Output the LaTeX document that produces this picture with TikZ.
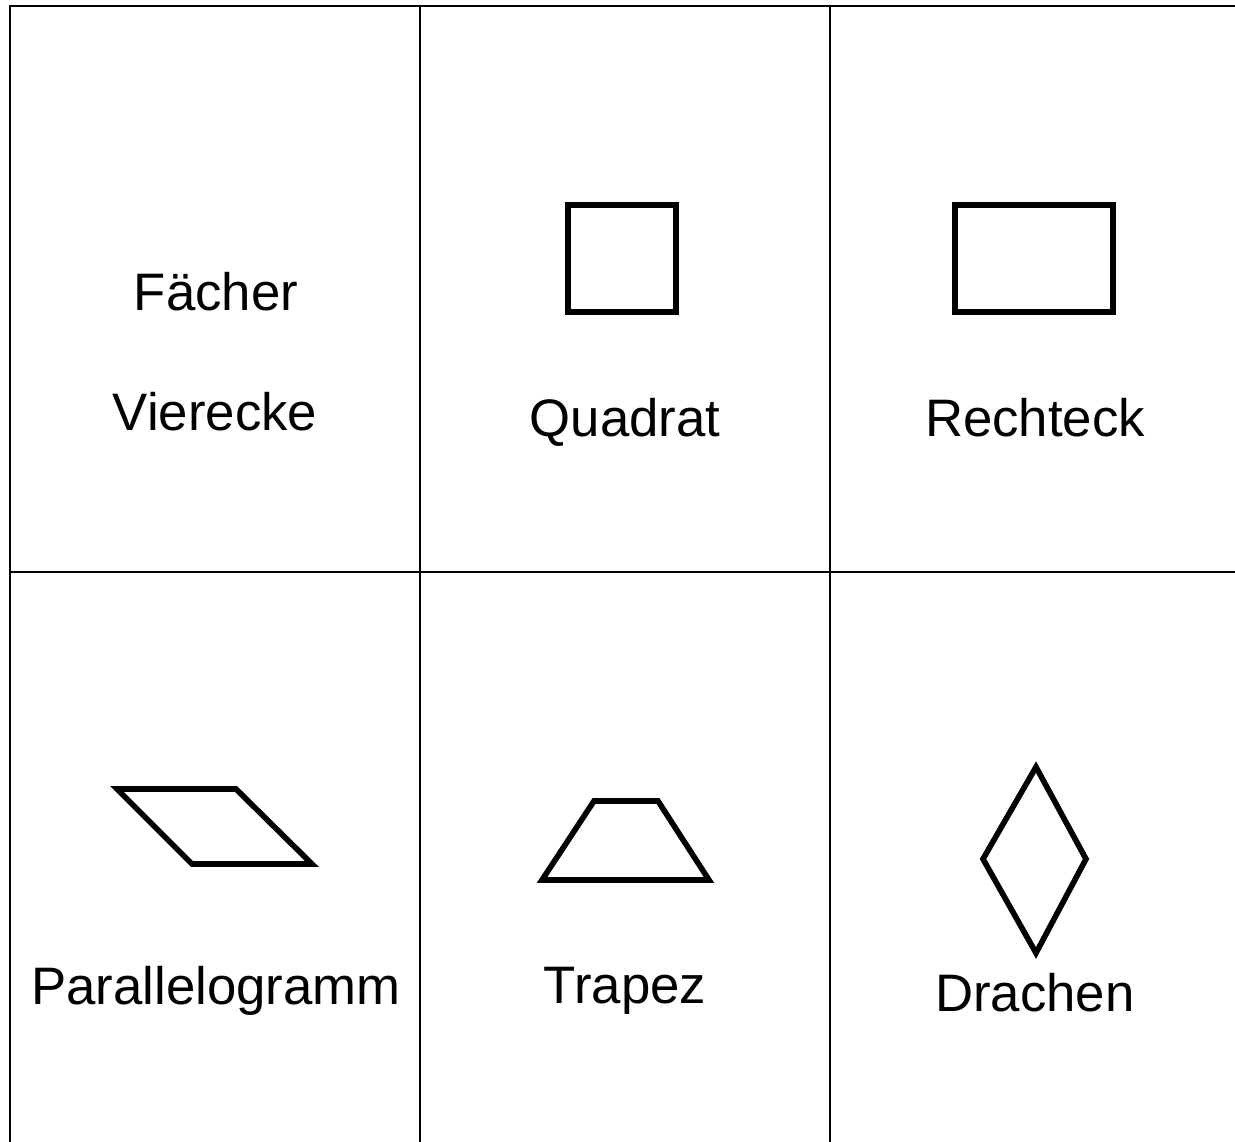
\documentclass[tikz,border=0pt]{standalone}
\usepackage{fontspec}
\setmainfont{Liberation Sans}

\begin{document}
\begin{tikzpicture}[x=0.01cm, y=-0.01cm,
    gitter/.style={line width=0.6pt, line cap=rect},
    figur/.style={line width=1.6pt, line join=miter},
    wort/.style={font=\fontsize{15pt}{18pt}\selectfont, anchor=base, inner sep=0pt}]
  \useasboundingbox (0,0) rectangle (1235,1141);

  % Gitter
  \foreach \y in {6, 572} {
    \draw[gitter] (10,\y) -- (1236,\y);
  }
  \foreach \x in {10, 420, 830} {
    \draw[gitter] (\x,6) -- (\x,1142);
  }

  % Obere Zeile
  \node[wort] (faecher) at (216,310) {Fächer};
  \node[wort] (vierecke) at (215,430) {Vierecke};
  \draw[figur] (568,205) rectangle (676,312);
  \node[wort] (quadrat) at (625,436) {Quadrat};
  \draw[figur] (955,205) rectangle (1113,312);
  \node[wort] (rechteck) at (1035,436) {Rechteck};

  % Untere Zeile
  \draw[figur] (117,789) -- (236,789) -- (312,864) -- (192,864) -- cycle;
  \node[wort] (parallelogramm) at (216,1004) {Parallelogramm};
  \draw[figur] (594,801) -- (658,801) -- (709,880) -- (542,880) -- cycle;
  \node[wort] (trapez) at (625,1003) {Trapez};
  \draw[figur] (1036,767) -- (1086,859) -- (1036,953) -- (983,859) -- cycle;
  \node[wort] (drachen) at (1035,1011) {Drachen};
\end{tikzpicture}
\end{document}
